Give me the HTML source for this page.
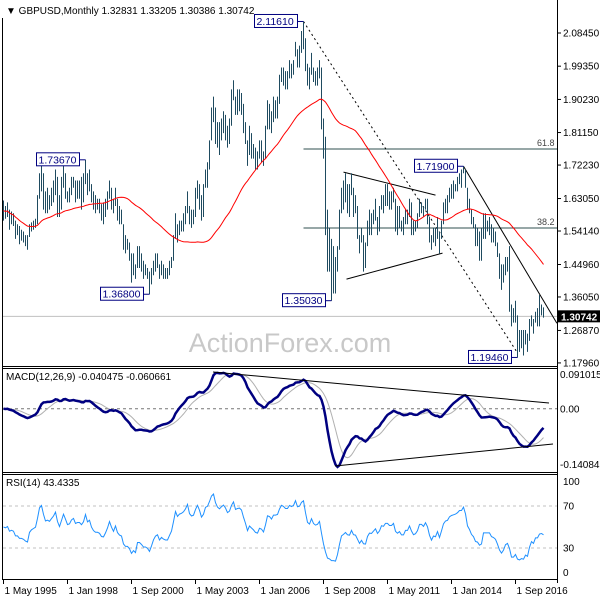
<!DOCTYPE html>
<html><head><meta charset="utf-8"><style>
body{margin:0;background:#fff;}
svg{display:block;font-family:"Liberation Sans",sans-serif;}
</style></head><body>
<svg id="chart" width="600" height="600" viewBox="0 0 600 600" xmlns="http://www.w3.org/2000/svg">
<rect x="0" y="0" width="600" height="600" fill="#fff"/>
<g id="grid"></g>
<text x="290" y="352" font-size="27" fill="#c8c8c8" text-anchor="middle">ActionForex.com</text>
<g id="annot"></g>
<g id="bars"></g>
<g id="ind"></g>
<g id="labels"></g>
<text x="6" y="14" font-size="10" fill="#000">▼ GBPUSD,Monthly  1.32831 1.33205 1.30386 1.30742</text>
</svg>
<script>
// Monthly highs / lows, May 1995 .. Nov 2017
const highs = [
1.625,1.610,1.620,1.600,1.595,1.590,1.570,1.560,
1.555,1.545,1.540,1.530,1.530,1.560,1.565,1.570,1.575,1.640,1.700,1.720,
1.700,1.650,1.660,1.640,1.660,1.680,1.710,1.690,1.640,1.690,1.720,1.700,
1.650,1.660,1.690,1.690,1.680,1.680,1.680,1.690,1.700,1.737,1.700,1.710,
1.670,1.650,1.640,1.630,1.630,1.615,1.620,1.630,1.650,1.680,1.660,1.630,
1.660,1.630,1.610,1.600,1.560,1.530,1.520,1.510,1.480,1.480,1.450,1.500,
1.500,1.480,1.460,1.450,1.440,1.430,1.440,1.460,1.480,1.480,1.450,1.460,
1.450,1.440,1.440,1.460,1.470,1.530,1.590,1.560,1.570,1.570,1.590,1.610,
1.650,1.610,1.600,1.600,1.660,1.680,1.670,1.640,1.670,1.710,1.730,1.790,
1.880,1.910,1.880,1.840,1.840,1.850,1.870,1.860,1.830,1.850,1.930,1.955,
1.910,1.930,1.930,1.920,1.890,1.840,1.790,1.830,1.810,1.780,1.770,1.760,
1.790,1.790,1.760,1.830,1.900,1.890,1.870,1.910,1.900,1.910,1.970,1.990,
1.990,1.980,1.980,2.010,2.000,2.010,2.060,2.040,2.050,2.090,2.116,2.070,
2.000,1.990,2.030,1.990,1.980,1.990,2.010,1.990,1.850,1.800,1.600,1.550,
1.520,1.500,1.470,1.500,1.600,1.660,1.680,1.700,1.670,1.670,1.700,1.660,
1.640,1.610,1.530,1.550,1.530,1.510,1.570,1.600,1.590,1.600,1.630,1.580,
1.610,1.640,1.640,1.670,1.670,1.650,1.650,1.660,1.630,1.610,1.610,1.570,
1.580,1.600,1.600,1.630,1.620,1.570,1.570,1.590,1.630,1.620,1.610,1.630,
1.630,1.580,1.530,1.550,1.550,1.580,1.540,1.570,1.620,1.630,1.640,1.660,
1.670,1.680,1.670,1.690,1.700,1.710,1.719,1.710,1.660,1.630,1.600,1.580,
1.560,1.550,1.540,1.550,1.590,1.590,1.570,1.580,1.560,1.550,1.540,1.510,
1.480,1.450,1.450,1.470,1.470,1.500,1.340,1.330,1.350,1.310,1.270,1.270,
1.270,1.270,1.260,1.300,1.310,1.300,1.320,1.330,1.366,1.340,1.3321];
const lows = [
1.570,1.575,1.580,1.545,1.560,1.555,1.520,1.530,
1.505,1.515,1.510,1.500,1.490,1.525,1.540,1.545,1.550,1.560,1.630,1.650,
1.600,1.590,1.590,1.600,1.610,1.620,1.640,1.580,1.580,1.600,1.660,1.630,
1.620,1.620,1.640,1.660,1.620,1.630,1.630,1.600,1.620,1.670,1.640,1.650,
1.620,1.600,1.590,1.600,1.590,1.570,1.560,1.580,1.600,1.630,1.600,1.590,
1.610,1.570,1.560,1.560,1.490,1.480,1.490,1.460,1.400,1.420,1.410,1.440,
1.440,1.430,1.410,1.420,1.410,1.368,1.395,1.420,1.430,1.440,1.410,1.420,
1.410,1.410,1.410,1.420,1.440,1.460,1.520,1.510,1.530,1.540,1.540,1.560,
1.590,1.560,1.550,1.560,1.580,1.630,1.600,1.570,1.580,1.660,1.660,1.710,
1.790,1.840,1.780,1.770,1.750,1.790,1.810,1.790,1.770,1.780,1.830,1.900,
1.860,1.860,1.870,1.860,1.810,1.780,1.720,1.750,1.740,1.740,1.710,1.710,
1.740,1.730,1.720,1.740,1.820,1.820,1.810,1.840,1.850,1.850,1.890,1.950,
1.940,1.930,1.930,1.960,1.960,1.970,2.020,1.990,1.990,2.030,2.040,1.980,
1.940,1.930,1.970,1.950,1.940,1.940,1.960,1.820,1.740,1.530,1.430,1.430,
1.350,1.370,1.370,1.430,1.490,1.590,1.600,1.620,1.590,1.580,1.640,1.580,
1.590,1.520,1.480,1.510,1.430,1.440,1.500,1.530,1.530,1.560,1.570,1.530,
1.540,1.600,1.590,1.610,1.610,1.600,1.600,1.620,1.540,1.530,1.550,1.540,
1.530,1.560,1.560,1.580,1.530,1.530,1.540,1.550,1.580,1.590,1.580,1.600,
1.560,1.510,1.490,1.510,1.500,1.520,1.480,1.520,1.560,1.590,1.590,1.620,
1.630,1.630,1.650,1.650,1.670,1.660,1.700,1.660,1.600,1.590,1.560,1.550,
1.500,1.500,1.460,1.460,1.520,1.520,1.540,1.530,1.510,1.510,1.500,1.470,
1.410,1.380,1.400,1.420,1.430,1.320,1.280,1.290,1.290,1.1946,1.210,1.220,
1.200,1.230,1.210,1.240,1.280,1.260,1.290,1.280,1.280,1.310,1.3039];
const priceTicks = ["2.08450","1.99350","1.90230","1.81150","1.72230","1.63050","1.54140","1.44960","1.36050","1.26870","1.17960"];
const dateTicks = ["1 May 1995","1 Jan 1998","1 Sep 2000","1 May 2003","1 Jan 2006","1 Sep 2008","1 May 2011","1 Jan 2014","1 Sep 2016"];
const dateTickIdx = [0,32,64,96,128,160,192,224,256];
const macdTicks = ["0.091015","0.00","-0.140843"];
const macdTickVals = [0.091015,0,-0.140843];
const rsiTicks = ["100","70","30","0"];
const rsiTickVals = [100,70,30,0];
// annotations: [label, monthIndex, price]
const swingLabels = [["2.11610",150,2.1161],["1.73670",41,1.7367],["1.36800",73,1.368],["1.35030",164,1.3503],["1.71900",230,1.719],["1.19460",257,1.1946]];
const fib = [["61.8",1.7664],["38.2",1.5497]];
const lastPrice = 1.30742;

const NS="http://www.w3.org/2000/svg";
const X=i=>3.5+2*i;
const PY=p=>33+(2.0845-p)*364.6;
const MY=v=>368+(0.091015-v)*448;
const RY=v=>579.5-v*1.05;
function mk(tag,attrs,parent,name,inter){const e=document.createElementNS(NS,tag);for(const k in attrs)e.setAttribute(k,attrs[k]);


document.getElementById(parent).appendChild(e);return e;}
function txt(s,x,y,attrs,parent,name){const e=mk('text',Object.assign({x:x,y:y,'font-size':10,fill:'#000'},attrs||{}),parent,name);e.textContent=s;return e;}

mk('line',{x1:2.5,y1:18,x2:2.5,y2:579.5,stroke:'#000'},'grid','left-border');
mk('line',{x1:557.5,y1:0,x2:557.5,y2:583,stroke:'#000'},'grid','right-border');
mk('line',{x1:2,y1:366.5,x2:558,y2:366.5,stroke:'#000'},'grid','main-panel-bottom');
mk('line',{x1:2,y1:368.5,x2:558,y2:368.5,stroke:'#000'},'grid','macd-panel-top');
mk('line',{x1:2,y1:472.5,x2:558,y2:472.5,stroke:'#000'},'grid','macd-panel-bottom');
mk('line',{x1:2,y1:474.5,x2:558,y2:474.5,stroke:'#000'},'grid','rsi-panel-top');
mk('line',{x1:2,y1:579.5,x2:558,y2:579.5,stroke:'#000'},'grid','rsi-panel-bottom');

priceTicks.forEach(t=>{const y=PY(parseFloat(t));
mk('line',{x1:557,y1:y,x2:561,y2:y,stroke:'#000'},'grid','price-tick');
txt(t,563,y+3.5,{},'labels','price-tick-label');});
dateTicks.forEach((t,k)=>{const x=X(dateTickIdx[k]);
mk('line',{x1:x,y1:579,x2:x,y2:584,stroke:'#000'},'grid','date-tick');
txt(t,x+1,594,{},'labels','date-tick-label');});
mk('line',{x1:3,y1:PY(lastPrice),x2:557,y2:PY(lastPrice),stroke:'#c0c0c0'},'annot','last-price-line');
mk('rect',{x:558,y:PY(lastPrice)-6,width:42,height:12,fill:'#000'},'labels','last-price-box');
txt(lastPrice.toFixed(5),561,PY(lastPrice)+4,{fill:'#fff','font-weight':'bold'},'labels','last-price-label');

fib.forEach(f=>{const y=PY(f[1]);
mk('line',{x1:X(150),y1:y,x2:557,y2:y,stroke:'#2f4f4f'},'annot','fib-line-'+f[0]);
txt(f[0],537,y-3,{'font-size':9,fill:'#444'},'annot','fib-label-'+f[0]);});
function tl(i1,p1,i2,p2,name,dash){mk('line',{x1:X(i1),y1:PY(p1),x2:X(i2),y2:PY(p2),stroke:'#000','stroke-dasharray':dash||'none'},'annot',name);}
tl(150,2.1161,257,1.207,'dotted-channel-line','2,3');
tl(170,1.7029,216,1.6398,'triangle-upper-line');
tl(171.5,1.4094,219.5,1.4807,'triangle-lower-line');
tl(230,1.719,276.7,1.2884,'downtrend-line');

highs.forEach((h,i)=>{mk('line',{x1:X(i),y1:PY(h),x2:X(i),y2:PY(lows[i]),stroke:'#1f4b60'},'bars','price-bar');});
const closes=highs.map((h,i)=>(h+lows[i])/2);
let maPts=[];for(let i=0;i<closes.length;i++){const s=Math.max(0,i-44);let sum=0;for(let j=s;j<=i;j++)sum+=closes[j];maPts.push(X(i)+','+PY(sum/(i-s+1)).toFixed(1));}
mk('polyline',{points:maPts.join(' '),fill:'none',stroke:'#ff0000','stroke-width':1},'ind','moving-average-line');

swingLabels.forEach(s=>{const x=X(s[1]);const y=PY(s[2]);
const bw=43,bx=x-bw-6,by=y-7;
mk('line',{x1:bx+bw,y1:y,x2:x,y2:y,stroke:'#000080'},'labels','swing-connector');
mk('rect',{x:bx,y:by,width:bw,height:13,fill:'#fff',stroke:'#000080'},'labels','swing-box');
txt(s[0],bx+2,by+10.5,{fill:'#000080','font-size':10.5},'labels','swing-label-'+s[0]);});

function ema(arr,n){const k=2/(n+1);let out=[];let e=arr[0];arr.forEach((v,i)=>{e=i?v*k+e*(1-k):v;out.push(e);});return out;}
const e12=ema(closes,12),e26=ema(closes,26);const macd=closes.map((c,i)=>e12[i]-e26[i]);
const sig=macd.map((v,i)=>{const s=Math.max(0,i-8);let sum=0;for(let j=s;j<=i;j++)sum+=macd[j];return sum/(i-s+1);});
mk('line',{x1:3,y1:MY(0),x2:557,y2:MY(0),stroke:'#777','stroke-dasharray':'3,3'},'ind','macd-zero-line');
macdTicks.forEach((t,k)=>{const y=MY(macdTickVals[k]);txt(t,560,Math.min(Math.max(y+3.5,378),468),{},'labels','macd-tick-label');});
mk('polyline',{points:sig.map((v,i)=>X(i)+','+MY(v).toFixed(1)).join(' '),fill:'none',stroke:'#b0b0b0'},'ind','macd-signal-line');
mk('polyline',{points:macd.map((v,i)=>X(i)+','+MY(v).toFixed(1)).join(' '),fill:'none',stroke:'#000080','stroke-width':2.5},'ind','macd-main-line');
mk('line',{x1:213,y1:372,x2:549,y2:403,stroke:'#000'},'ind','macd-upper-trendline');
mk('line',{x1:335,y1:466,x2:553,y2:444,stroke:'#000'},'ind','macd-lower-trendline');
txt('MACD(12,26,9) -0.040475 -0.060661',6,380,{},'labels','macd-title');

// RSI (Wilder), seeded with equal gain/loss averages
let ag=0.012,al=0.012,rsi=[50];for(let i=1;i<closes.length;i++){const d=closes[i]-closes[i-1];const g=Math.max(d,0),l=Math.max(-d,0);
ag=(ag*13+g)/14;al=(al*13+l)/14;rsi.push(al===0?100:100-100/(1+ag/al));}
[70,30].forEach(v=>mk('line',{x1:3,y1:RY(v),x2:557,y2:RY(v),stroke:'#c0c0c0','stroke-dasharray':'3,3'},'ind','rsi-level-'+v));
rsiTicks.forEach((t,k)=>{const y=RY(rsiTickVals[k]);txt(t,563,Math.min(Math.max(y+3.5,485),576),{},'labels','rsi-tick-label');});
mk('polyline',{points:rsi.map((v,i)=>X(i)+','+RY(v).toFixed(1)).join(' '),fill:'none',stroke:'#1e90ff'},'ind','rsi-line');
txt('RSI(14) 43.4335',6,486,{},'labels','rsi-title');
</script>
</body></html>
